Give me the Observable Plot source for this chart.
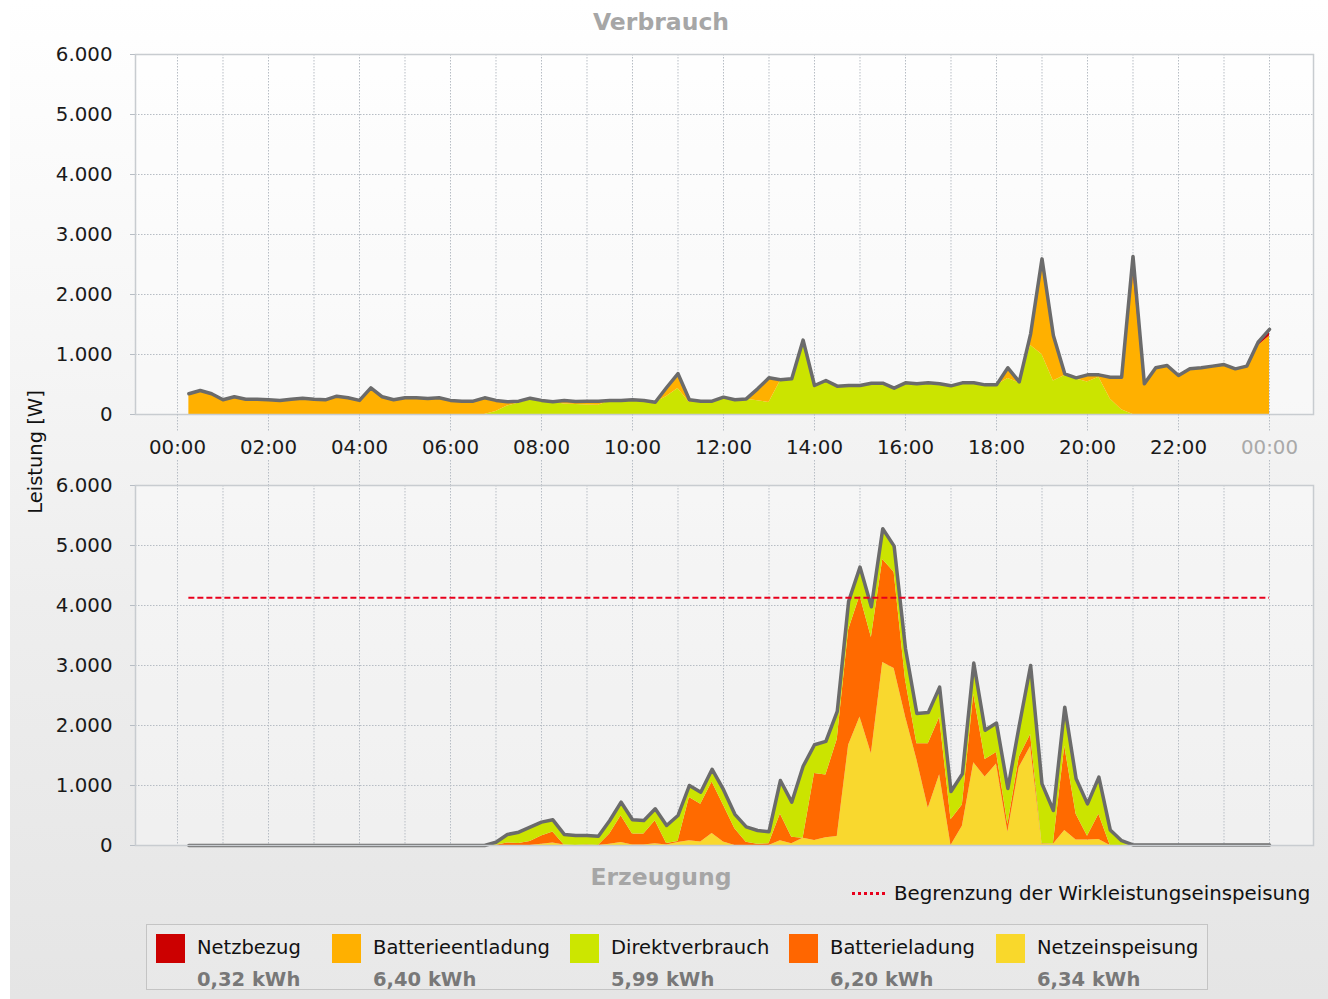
<!DOCTYPE html>
<html>
<head>
<meta charset="utf-8">
<script src="https://cdn.jsdelivr.net/npm/d3@7"></script>
<script src="https://cdn.jsdelivr.net/npm/@observablehq/plot@0.6"></script>
<style>
  body { margin: 0; background: #ffffff; }
  #root { position: relative; width: 1328px; height: 999px; overflow: hidden; font-family: "DejaVu Sans", Verdana, sans-serif; }
  #bg { position: absolute; left: 10px; top: 0; width: 1318px; height: 999px;
        background: linear-gradient(to bottom, #ffffff 0%, #f7f7f7 30%, #eeeeee 60%, #e5e5e5 100%); }
  .title { position: absolute; font-weight: bold; font-size: 23.5px; color: #a6a6a6; transform: translate(-50%, -50%); white-space: nowrap; }
  .ylabel { position: absolute; left: 35px; top: 452px; font-size: 19.5px; color: #111; transform: translate(-50%, -50%) rotate(-90deg); white-space: nowrap; }
  .plot { position: absolute; left: 0; }
  #limit { position: absolute; left: 852px; top: 893px; transform: translateY(-50%); display: flex; align-items: center; font-size: 19.8px; color: #111; white-space: nowrap; }
  #legend { position: absolute; left: 146px; top: 924px; width: 1062px; height: 66px; border: 1px solid #c4c4c4; box-sizing: border-box; background: rgba(255,255,255,0.12); }
  .sw { position: absolute; top: 9px; width: 29px; height: 29px; }
  .ln { position: absolute; top: 22px; transform: translateY(-50%); font-size: 19.5px; color: #111; white-space: nowrap; }
  .lv { position: absolute; top: 54px; transform: translateY(-50%); font-size: 19.5px; font-weight: bold; color: #787878; white-space: nowrap; }
</style>
</head>
<body>
<div id="root">
  <div id="bg"></div>
  <div class="title" style="left:661px;top:22px">Verbrauch</div>
  <div class="title" style="left:661px;top:877px">Erzeugung</div>
  <div class="ylabel">Leistung [W]</div>
  <div id="top" class="plot" style="top:40px"></div>
  <div id="bottom" class="plot" style="top:480px"></div>
  <div id="limit"><svg width="36" height="6" style="margin-right:6px"><line x1="0" y1="3" x2="36" y2="3" stroke="#e8001c" stroke-width="3" stroke-dasharray="3,3"/></svg>Begrenzung der Wirkleistungseinspeisung</div>
  <div id="legend"></div>
</div>
<script>
// ---------- Daten ----------
const zeit = [
  "00:15","00:30","00:45","01:00","01:15","01:30","01:45","02:00",
  "02:15","02:30","02:45","03:00","03:15","03:30","03:45","04:00",
  "04:15","04:30","04:45","05:00","05:15","05:30","05:45","06:00",
  "06:15","06:30","06:45","07:00","07:15","07:30","07:45","08:00",
  "08:15","08:30","08:45","09:00","09:15","09:30","09:45","10:00",
  "10:15","10:30","10:45","11:00","11:15","11:30","11:45","12:00",
  "12:15","12:30","12:45","13:00","13:15","13:30","13:45","14:00",
  "14:15","14:30","14:45","15:00","15:15","15:30","15:45","16:00",
  "16:15","16:30","16:45","17:00","17:15","17:30","17:45","18:00",
  "18:15","18:30","18:45","19:00","19:15","19:30","19:45","20:00",
  "20:15","20:30","20:45","21:00","21:15","21:30","21:45","22:00",
  "22:15","22:30","22:45","23:00","23:15","23:30","23:45","24:00"
];

// Verbrauch (W)
const netzbezug = [
  0,0,0,0, 0,0,0,0, 0,0,0,0, 0,0,0,0, 0,0,0,0, 0,0,0,0,
  0,0,0,0, 0,0,0,0, 0,0,0,0, 0,0,0,0, 0,0,0,0, 0,0,0,0,
  0,0,0,0, 0,0,0,0, 0,0,0,0, 0,0,0,0, 0,0,0,0, 0,0,0,0,
  0,0,0,60, 0,0,0,0, 0,0,0,250, 20,0,0,0, 0,0,0,0, 0,0,60,110
];
const batterieentladung = [
  345,400,345,245, 295,255,255,245, 235,255,272,255, 245,305,278,235,
  445,295,245,278, 278,265,278,235, 222,222,278,185, 71,32,32,5,
  6,60,52,62, 67,10,10,10, 10,5,150,245, 45,22,12,29,
  5,5,198,411, 18,9,40,5, 7,2,5,5, 7,7,4,8,
  6,8,6,6, 8,8,6,6, 178,14,194,1534, 757,28,21,121,
  41,362,542,2383, 491,778,817,650, 761,778,806,833, 761,806,1146,1310
];
const direktverbrauch = [
  0,0,0,0, 0,0,0,0, 0,0,0,0, 0,0,0,0, 0,0,0,0, 0,0,0,0,
  0,0,0,50, 140,190,240,230, 205,175,165,160, 155,225,225,235,
  225,200,300,435, 200,200,210,260, 240,255,230,200, 560,585,1200,478,
  560,470,478,478, 515,515,435,520, 505,520,505,472, 520,520,488,488,
  600,530,1150,1000, 560,650,590,540, 620,260,80,0,
  0,0,0,0, 0,0,0,0, 0,0,0,0
];
// Erzeugung (W)
const batterieladung = [
  0,0,0,0, 0,0,0,0, 0,0,0,0, 0,0,0,0, 0,0,0,0, 0,0,0,0,
  0,0,0,5, 43,32,66,139, 183,0,2,7, 0,172,447,183,
  182,381,23,15, 720,629,860,610, 280,55,20,30, 443,107,0,1119,
  1047,1615,1922,2022, 1935,1715,1605,610, 265,1075,955,428, 354,1140,292,192,
  130,170,200,8, 3,1406,431,64, 419,0,0,0,
  0,0,0,0, 0,0,0,0, 0,0,0,0
];
const netzeinspeisung = [
  0,0,0,0, 0,0,0,0, 0,0,0,0, 0,0,0,0, 0,0,0,0, 0,0,0,0,
  0,0,0,0, 0,0,0,20, 40,10,0,0, 0,20,50,10,
  10,30,10,50, 80,60,200,60, 0,0,0,0, 80,30,120,83,
  128,150,1670,2140, 1530,3050,2950,2150, 1430,620,1180,0, 320,1380,1140,1360,
  220,1300,1650,20, 20,250,90,90, 100,0,0,10,
  10,10,10,10, 10,10,10,10, 10,10,10,10
];
const begrenzung = 4130;

const serien = ["Netzbezug", "Batterieentladung", "Direktverbrauch", "Batterieladung", "Netzeinspeisung"];
const farben = ["#d00000", "#ffb000", "#cbe400", "#ff6a00", "#f9d82e"];
const legendFarben = ["#cc0000", "#ffb000", "#cce600", "#ff6600", "#f9d82b"];
const energie = ["0,32 kWh", "6,40 kWh", "5,99 kWh", "6,20 kWh", "6,34 kWh"];

const yTicks = [0, 1000, 2000, 3000, 4000, 5000, 6000];
const xTickStunden = [0, 2, 4, 6, 8, 10, 12, 14, 16, 18, 20, 22, 24];
const xTickLabels = ["00:00","02:00","04:00","06:00","08:00","10:00","12:00","14:00","16:00","18:00","20:00","22:00","00:00"];
const gitterStunden = [0,1,2,3,4,5,6,7,8,9,10,11,12,13,14,15,16,17,18,19,20,21,22,23,24];

// ---------- Aufbereitung ----------
const stunden = zeit.map(s => { const [h, m] = s.split(":").map(Number); return h + m / 60; });
const fmt = d3.formatLocale({decimal: ",", thousands: ".", grouping: [3], currency: ["", " €"]}).format(",d");

const topRows = [], botRows = [];
stunden.forEach((t, i) => {
  topRows.push({t, s: "Direktverbrauch", v: direktverbrauch[i]});
  topRows.push({t, s: "Batterieentladung", v: batterieentladung[i]});
  topRows.push({t, s: "Netzbezug", v: netzbezug[i]});
  botRows.push({t, s: "Netzeinspeisung", v: netzeinspeisung[i]});
  botRows.push({t, s: "Batterieladung", v: batterieladung[i]});
  botRows.push({t, s: "Direktverbrauch", v: direktverbrauch[i]});
});
const topTotal = stunden.map((t, i) => ({t, v: direktverbrauch[i] + batterieentladung[i] + netzbezug[i]}));
const botTotal = stunden.map((t, i) => ({t, v: netzeinspeisung[i] + batterieladung[i] + direktverbrauch[i]}));

const X_DOMAIN = [-0.923, 24.967];
const gridStroke = "#b7bdc4";
const FS = 19.8;
const common = {
  width: 1328,
  marginLeft: 135,
  marginRight: 15,
  x: {domain: X_DOMAIN, axis: null},
  y: {domain: [0, 6000], axis: null},
  color: {domain: serien, range: farben},
  style: {fontFamily: "DejaVu Sans, Verdana, sans-serif", fontSize: FS + "px", background: "transparent", overflow: "visible"}
};

function gridMarks() {
  return [
    Plot.frame({fill: "#ffffff", fillOpacity: 0.35, stroke: null}),
    Plot.ruleX(gitterStunden, {x: d => d, stroke: gridStroke, strokeDasharray: "1.5,1.5", strokeWidth: 1}),
    Plot.ruleY(yTicks, {y: d => d, stroke: gridStroke, strokeDasharray: "1.5,1.5", strokeWidth: 1}),
    Plot.axisY(yTicks, {tickFormat: fmt, tickSize: 5, tickPadding: 18, stroke: "#b7bdc4", fill: "#1a1a1a", fontSize: FS, label: null})
  ];
}

const topPlot = Plot.plot({
  ...common,
  height: 445,
  marginTop: 14,
  marginBottom: 71,
  marks: [
    ...gridMarks(),
    Plot.areaY(topRows, {x: "t", y: "v", z: "s", fill: "s", order: ["Direktverbrauch", "Batterieentladung", "Netzbezug"]}),
    Plot.lineY(topTotal, {x: "t", y: "v", stroke: "#6b6b6b", strokeWidth: 3.5, strokeLinejoin: "round"}),
    Plot.frame({stroke: "#c8ccd0", strokeWidth: 1.5}),
    Plot.ruleX(xTickStunden, {x: d => d, insetTop: 342, dy: 18, stroke: gridStroke, strokeDasharray: "1.5,1.5"}),
    Plot.ruleX(xTickStunden, {x: d => d, insetTop: 335, dy: 71, stroke: gridStroke, strokeDasharray: "1.5,1.5"}),
    Plot.text(xTickStunden.slice(0, -1), {x: d => d, text: (d, i) => xTickLabels[i], frameAnchor: "bottom", dy: 33, lineAnchor: "middle", fill: "#1a1a1a", fontSize: FS}),
    Plot.text(xTickStunden.slice(-1), {x: d => d, text: () => xTickLabels[xTickLabels.length - 1], frameAnchor: "bottom", dy: 33, lineAnchor: "middle", fill: "#a9a9a9", fontSize: FS})
  ]
});
document.getElementById("top").append(topPlot);

const botPlot = Plot.plot({
  ...common,
  height: 380,
  marginTop: 5,
  marginBottom: 15,
  marks: [
    ...gridMarks(),
    Plot.areaY(botRows, {x: "t", y: "v", z: "s", fill: "s", order: ["Netzeinspeisung", "Batterieladung", "Direktverbrauch"]}),
    Plot.lineY(botTotal, {x: "t", y: "v", stroke: "#6b6b6b", strokeWidth: 3.5, strokeLinejoin: "round"}),
    Plot.ruleY([begrenzung], {y: d => d, x1: stunden[0], x2: stunden[stunden.length - 1], stroke: "#e8001c", strokeWidth: 2, strokeDasharray: "6,3"}),
    Plot.frame({stroke: "#c8ccd0", strokeWidth: 1.5})
  ]
});
document.getElementById("bottom").append(botPlot);

// ---------- Legende ----------
const legendX = [9, 185, 423, 642, 849];
const legend = document.getElementById("legend");
serien.forEach((s, i) => {
  const sw = document.createElement("div");
  sw.className = "sw"; sw.style.left = legendX[i] + "px"; sw.style.background = legendFarben[i];
  const ln = document.createElement("div");
  ln.className = "ln"; ln.style.left = (legendX[i] + 41) + "px"; ln.textContent = s;
  const lv = document.createElement("div");
  lv.className = "lv"; lv.style.left = (legendX[i] + 41) + "px"; lv.textContent = energie[i];
  legend.append(sw, ln, lv);
});
</script>
</body>
</html>
